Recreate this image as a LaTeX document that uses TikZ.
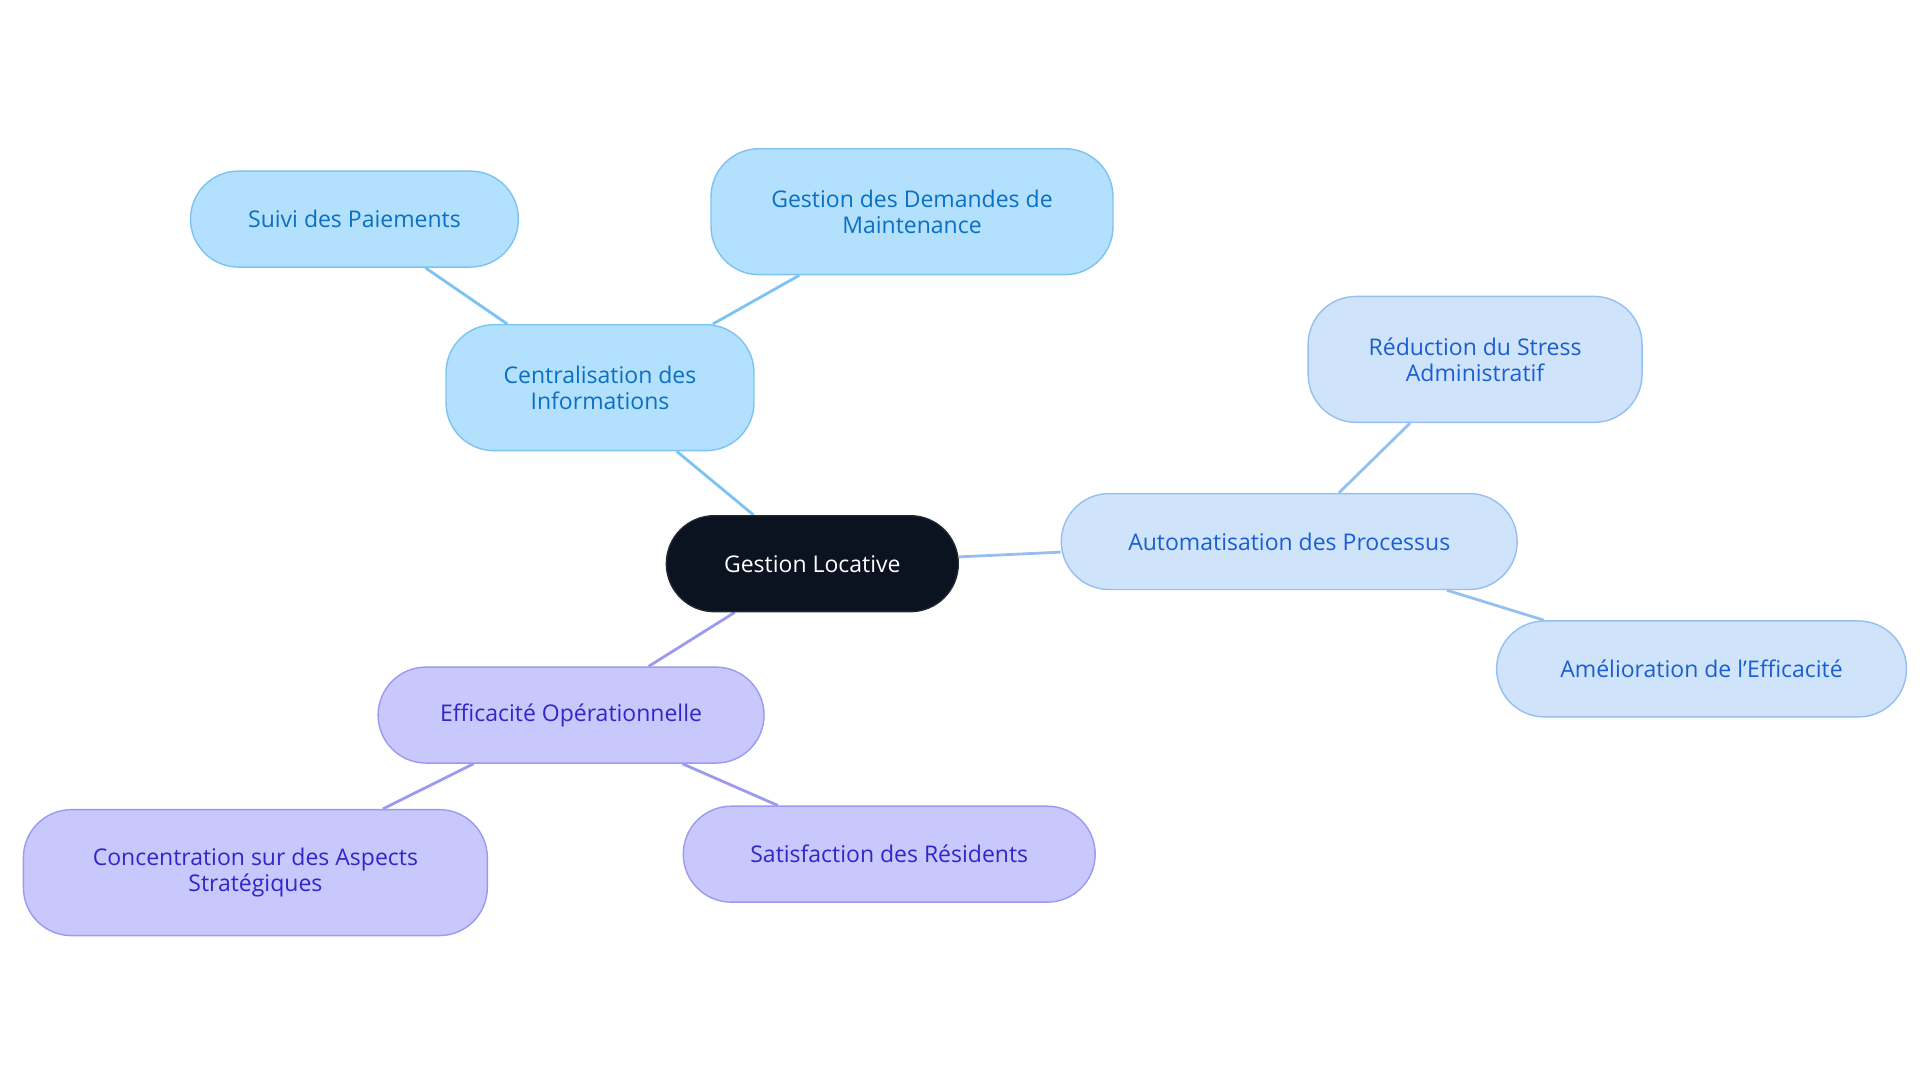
\documentclass[tikz,border=0pt]{standalone}
\usepackage{fontspec}
\setmainfont{Open Sans}
\usetikzlibrary{backgrounds}
\definecolor{rootfill}{HTML}{0B1220}
\definecolor{bluefill}{HTML}{B3E0FD}
\definecolor{blueline}{HTML}{7CC3F2}
\definecolor{bluetext}{HTML}{0B6FC2}
\definecolor{skyfill}{HTML}{CFE3FB}
\definecolor{skyline}{HTML}{95BFEF}
\definecolor{skytext}{HTML}{1A5FD0}
\definecolor{violetfill}{HTML}{C8C8FD}
\definecolor{violetline}{HTML}{9C9AF0}
\definecolor{violettext}{HTML}{3325C8}
\tikzset{
  pill/.style={rectangle, rounded corners=#1, align=center, line width=0.7pt,
    font=\fontsize{11.5}{13}\selectfont, inner sep=0pt},
  rootnode/.style={pill=24pt, fill=rootfill, draw=rootfill!80!gray, text=white,
    minimum width=146pt, minimum height=48pt},
  bluenode/.style={pill=24pt, fill=bluefill, draw=blueline, text=bluetext},
  skynode/.style={pill=24pt, fill=skyfill, draw=skyline, text=skytext},
  violetnode/.style={pill=24pt, fill=violetfill, draw=violetline, text=violettext},
  link/.style={line width=1.4pt, draw=#1}
}
\begin{document}
\begin{tikzpicture}[x=0.6155pt, y=-0.6155pt]
		\useasboundingbox (0,0) rectangle (1560,880);
		\node[rootnode] (gl) at (660,458) {Gestion Locative};
		\node[bluenode, minimum width=154pt, minimum height=63pt] (ci) at (487.5,315) {Centralisation des\\Informations};
		\node[bluenode, minimum width=164pt, minimum height=48pt] (sp) at (288,178) {Suivi des Paiements};
		\node[bluenode, minimum width=201pt, minimum height=63pt] (gd) at (741,172) {Gestion des Demandes de\\Maintenance};
		\node[skynode, minimum width=228pt, minimum height=48pt] (ap) at (1047.5,440) {Automatisation des Processus};
		\node[skynode, minimum width=167pt, minimum height=63pt] (rs) at (1198.5,292) {Réduction du Stress\\Administratif};
		\node[skynode, minimum width=205pt, minimum height=48pt] (ae) at (1382.5,543.5) {Amélioration de l'Efficacité};
		\node[violetnode, minimum width=193pt, minimum height=48pt] (eo) at (464,581) {Efficacité Opérationnelle};
		\node[violetnode, minimum width=232pt, minimum height=63pt] (cs) at (207.5,709) {Concentration sur des Aspects\\Stratégiques};
		\node[violetnode, minimum width=206pt, minimum height=48pt] (sr) at (722.5,694) {Satisfaction des Résidents};
		\begin{scope}[on background layer]
		\draw[link=blueline] (gl) -- (ci) (ci) -- (sp) (ci) -- (gd);
		\draw[link=skyline] (gl) -- (ap) (ap) -- (rs) (ap) -- (ae);
		\draw[link=violetline] (gl) -- (eo) (eo) -- (cs) (eo) -- (sr);
		\end{scope}
\end{tikzpicture}
\end{document}
